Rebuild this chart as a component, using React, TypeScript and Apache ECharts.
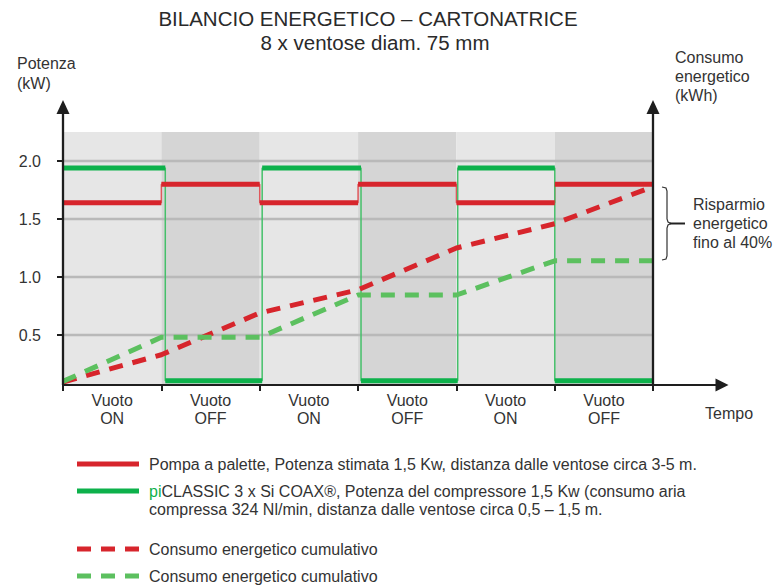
import React, { useEffect, useRef } from 'react';
import * as echarts from 'echarts';

// ---- data ----
const phaseBounds = [0, 1, 2, 3, 4, 5, 6];
const phaseLabels = ['Vuoto\nON', 'Vuoto\nOFF', 'Vuoto\nON', 'Vuoto\nOFF', 'Vuoto\nON', 'Vuoto\nOFF'];
const pumpPower = [1.64, 1.8, 1.64, 1.8, 1.64, 1.8];
const coaxSwitch = [0, 1.04, 2.025, 3.03, 4.013, 5.0, 6];
const coaxPower = [1.94, 0.105, 1.94, 0.105, 1.94, 0.105];
const pumpEnergy = [0.095, 0.33, 0.69, 0.89, 1.25, 1.46, 1.78];
const coaxEnergy = [0.1, 0.48, 0.48, 0.845, 0.845, 1.14, 1.14];
const yTicks = [0.5, 1.0, 1.5, 2.0];

const FONT = '"Liberation Sans", Arial, Helvetica, sans-serif';
const TXT = '#333333';
const AX = '#1e1e1e';
const RED = '#d7252c';
const GREEN = '#0db14b';
const GREEN_D = '#5cc05f';

const Y_MIN = 0.069;
const Y_MAX = 2.466;
const SHADE_TOP = 2.25;
const X_MAX = 6.7;

function stepThin(bounds: number[], levels: number[]) {
  const d: any[] = [];
  levels.forEach((v, i) => {
    d.push([bounds[i], v]);
    d.push([bounds[i + 1], v]);
  });
  return d;
}
function stepThick(bounds: number[], levels: number[]) {
  const d: any[] = [];
  levels.forEach((v, i) => {
    d.push([bounds[i], v]);
    d.push([bounds[i + 1], v]);
    d.push([bounds[i + 1], null]);
  });
  return d;
}

export default function App() {
  const ref = useRef<HTMLDivElement>(null);
  useEffect(() => {
    if (!ref.current) return;
    const chart = echarts.init(ref.current, null, { renderer: 'svg' });

    const gridData: any[] = [];
    yTicks.forEach((t) => {
      gridData.push([phaseBounds[0], t]);
      gridData.push([phaseBounds[phaseBounds.length - 1], t]);
      gridData.push([phaseBounds[phaseBounds.length - 1], null]);
    });

    const areas = phaseLabels.map((_, i) => [
      { xAxis: phaseBounds[i], yAxis: Y_MIN, itemStyle: { color: i % 2 === 0 ? '#e6e6e6' : '#d5d5d5' } },
      { xAxis: phaseBounds[i + 1], yAxis: SHADE_TOP },
    ]);

    const lineSeries = (name: string, data: any[], color: string, width: number, type: any = 'solid') => ({
      name,
      type: 'line',
      data,
      symbol: 'none',
      silent: true,
      connectNulls: false,
      lineStyle: { color, width, type, cap: 'butt' },
    });

    const txt = (left: number, top: number, text: string, lineHeight = 18) => ({
      type: 'text',
      left,
      top,
      style: { text, fontSize: 16, lineHeight, fill: TXT, fontFamily: FONT },
    });

    const option: any = {
      animation: false,
      textStyle: { fontFamily: FONT },
      title: [
        {
          text: 'BILANCIO ENERGETICO – CARTONATRICE',
          left: 368,
          top: 7,
          textAlign: 'center',
          padding: 0,
          textStyle: { fontFamily: FONT, fontSize: 20.5, fontWeight: 'normal', color: '#2a2a2a', lineHeight: 22 },
        },
        {
          text: '8 x ventose diam. 75 mm',
          left: 375,
          top: 31,
          textAlign: 'center',
          padding: 0,
          textStyle: { fontFamily: FONT, fontSize: 20.5, fontWeight: 'normal', color: '#2a2a2a', lineHeight: 22 },
        },
      ],
      grid: { left: 63, top: 107, width: 659, height: 278, containLabel: false },
      xAxis: {
        type: 'value',
        min: 0,
        max: X_MAX,
        z: 10,
        axisLine: { onZero: false, lineStyle: { color: AX, width: 2 }, symbol: ['none', 'triangle'], symbolSize: [13, 13] },
        axisTick: { show: true, customValues: phaseBounds, length: 6, lineStyle: { color: AX, width: 2 } },
        axisLabel: {
          customValues: phaseBounds.slice(0, -1).map((b) => b + 0.5),
          formatter: (v: number) => phaseLabels[Math.floor(v)] ?? '',
          fontSize: 16,
          lineHeight: 18,
          color: TXT,
          margin: 6,
          fontFamily: FONT,
        },
        splitLine: { show: false },
      },
      yAxis: [
        {
          type: 'value',
          position: 'left',
          min: Y_MIN,
          max: Y_MAX,
          z: 10,
          axisLine: { show: true, onZero: false, lineStyle: { color: AX, width: 2.3 }, symbol: ['none', 'triangle'], symbolSize: [13, 14] },
          axisTick: { show: true, customValues: yTicks, length: 6, lineStyle: { color: AX, width: 2 } },
          axisLabel: {
            customValues: yTicks,
            formatter: (v: number) => v.toFixed(1),
            fontSize: 16,
            color: TXT,
            margin: 22,
            fontFamily: FONT,
          },
          splitLine: { show: false },
        },
        {
          type: 'value',
          position: 'right',
          offset: -69,
          min: Y_MIN,
          max: Y_MAX,
          z: 10,
          axisLine: { show: true, onZero: false, lineStyle: { color: AX, width: 2.3 }, symbol: ['none', 'triangle'], symbolSize: [13, 14] },
          axisTick: { show: false },
          axisLabel: { show: false },
          splitLine: { show: false },
        },
      ],
      series: [
        {
          ...lineSeries('grid', gridData, '#b9b9b9', 2.5),
          markArea: { silent: true, data: areas },
        },
        lineSeries('Pompa a palette (transizioni)', stepThin(phaseBounds, pumpPower), '#e0585c', 1.5),
        lineSeries('piCLASSIC (transizioni)', stepThin(coaxSwitch, coaxPower), '#45c06a', 1.5),
        lineSeries('Pompa a palette', stepThick(phaseBounds, pumpPower), RED, 5),
        lineSeries('piCLASSIC 3 x Si COAX', stepThick(coaxSwitch, coaxPower), GREEN, 5),
        lineSeries('Consumo pompa', phaseBounds.map((b, i) => [b, pumpEnergy[i]]), RED, 5, [14, 10]),
        lineSeries('Consumo piCLASSIC', phaseBounds.map((b, i) => [b, coaxEnergy[i]]), GREEN_D, 5, [14, 10]),
      ],
      graphic: [
        txt(17, 53, 'Potenza\n(kW)', 20),
        txt(675, 47.5, 'Consumo\nenergetico\n(kWh)', 19),
        txt(705, 404, 'Tempo', 18),
        {
          type: 'polyline',
          shape: { points: [[662, 187], [666, 188], [667, 191], [667, 219], [668, 222], [671, 223.5], [668, 225], [667, 228], [667, 256], [666, 259], [662, 260]] },
          style: { stroke: '#333', lineWidth: 1.2, fill: 'none' },
        },
        { type: 'line', shape: { x1: 670, y1: 223.5, x2: 685, y2: 223.5 }, style: { stroke: '#222', lineWidth: 2 } },
        txt(693, 194.5, 'Risparmio\nenergetico\nfino al 40%', 19),
        // legend
        { type: 'line', shape: { x1: 77, y1: 464, x2: 139, y2: 464 }, style: { stroke: RED, lineWidth: 5 } },
        txt(149, 455, 'Pompa a palette, Potenza stimata 1,5 Kw, distanza dalle ventose circa 3-5 m.'),
        { type: 'line', shape: { x1: 77, y1: 491, x2: 139, y2: 491 }, style: { stroke: GREEN, lineWidth: 5 } },
        {
          type: 'text',
          left: 149,
          top: 482,
          style: {
            text: '{g|pi}CLASSIC 3 x Si COAX®, Potenza del compressore 1,5 Kw (consumo aria\ncompressa 324 Nl/min, distanza dalle ventose circa 0,5 – 1,5 m.',
            rich: { g: { fill: GREEN, fontSize: 16, lineHeight: 18, fontFamily: FONT } },
            fontSize: 16,
            lineHeight: 18,
            fill: TXT,
            fontFamily: FONT,
          },
        },
        { type: 'line', shape: { x1: 77, y1: 549, x2: 139, y2: 549 }, style: { stroke: RED, lineWidth: 5, lineDash: [14, 10] } },
        txt(149, 540, 'Consumo energetico cumulativo'),
        { type: 'line', shape: { x1: 77, y1: 576, x2: 139, y2: 576 }, style: { stroke: GREEN_D, lineWidth: 5, lineDash: [14, 10] } },
        txt(149, 567, 'Consumo energetico cumulativo'),
      ],
    };
    chart.setOption(option);
    return () => chart.dispose();
  }, []);
  return <div ref={ref} style={{ position: 'fixed', left: 0, top: 0, width: 776, height: 587, background: '#fff' }} />;
}
